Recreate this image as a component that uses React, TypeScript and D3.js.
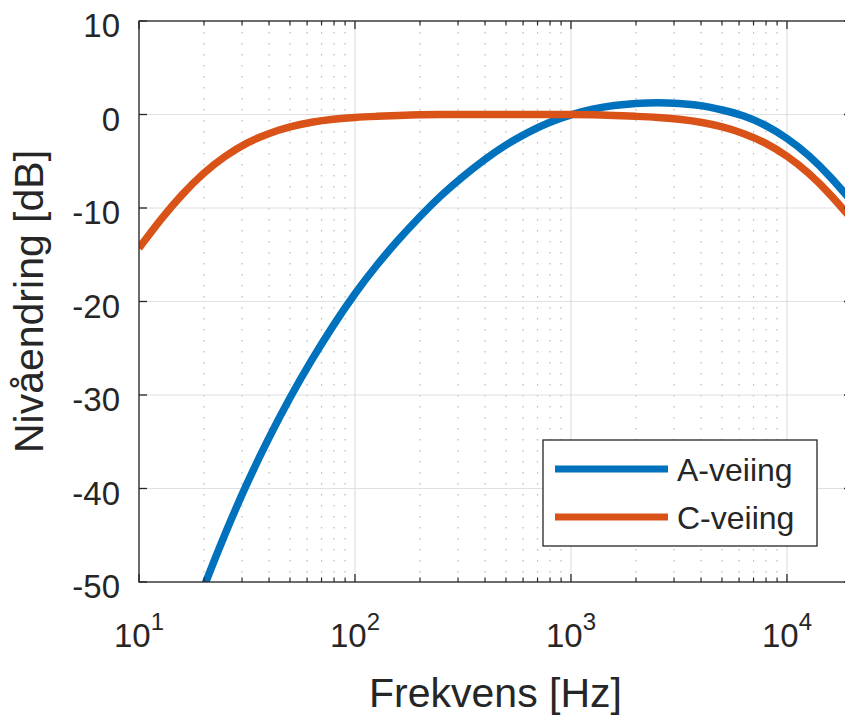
import React from 'react';
import * as d3 from 'd3';

// exact third-octave band centre frequencies [Hz]
const freqs = [10, 12.59, 15.85, 19.95, 25.12, 31.62, 39.81, 50.12, 63.1, 79.43, 100, 125.9, 158.5, 199.5, 251.2,
  316.2, 398.1, 501.2, 631, 794.3, 1000, 1259, 1585, 1995, 2512, 3162, 3981, 5012, 6310, 7943, 10000, 12589,
  15849, 19953];
const aWeight = [-70.4, -63.4, -56.7, -50.5, -44.7, -39.4, -34.6, -30.2, -26.2, -22.5, -19.1, -16.1, -13.4, -10.9,
  -8.6, -6.6, -4.8, -3.2, -1.9, -0.8, 0, 0.6, 1.0, 1.2, 1.3, 1.2, 1.0, 0.5, -0.1, -1.1, -2.5, -4.3, -6.6, -9.3];
const cWeight = [-14.3, -11.2, -8.5, -6.2, -4.4, -3.0, -2.0, -1.3, -0.8, -0.5, -0.3, -0.2, -0.1, 0, 0, 0, 0, 0, 0, 0,
  0, 0, -0.1, -0.2, -0.3, -0.5, -0.8, -1.3, -2.0, -3.0, -4.4, -6.2, -8.5, -11.2];
const seriesNames = ['A-veiing', 'C-veiing'];
const xDecades = [1, 2, 3, 4];
const yTicks = [10, 0, -10, -20, -30, -40, -50];

const W = 845, H = 715;
const left = 139, right = 852, top = 21, bottom = 582;
const axisColor = '#262626';
const colors = ['#0072BD', '#D95319'];
const font = '"Liberation Sans", Arial, Helvetica, sans-serif';

export default function App() {
  const x = d3.scaleLog().domain([10, 20000]).range([left, right]);
  const y = d3.scaleLinear().domain([-50, 10]).range([bottom, top]);

  const minor: number[] = [];
  [10, 100, 1000, 10000].forEach(d => {
    for (let k = 2; k <= 9; k++) if (d * k <= 20000) minor.push(d * k);
  });

  // basis spline smooths out the 0.1 dB rounding of the table values
  const line = d3.line<number>()
    .x((_, i) => x(freqs[i]))
    .y(v => y(v))
    .curve(d3.curveBasis);

  const series = [aWeight, cWeight];

  return (
    <svg width={W} height={H} style={{ position: 'absolute', left: 0, top: 0, background: '#fff' }}
      fontFamily={font}>
      <defs>
        <clipPath id="plot">
          <rect x={left} y={top} width={right - left} height={bottom - top} />
        </clipPath>
      </defs>

      {/* minor grid */}
      {minor.map(f => (
        <line key={'mg' + f} x1={x(f)} x2={x(f)} y1={top} y2={bottom}
          stroke="#b8b8b8" strokeWidth={1.2} strokeDasharray="1.5 9.5" />
      ))}
      {/* major grid */}
      {xDecades.map(p => (
        <line key={'gx' + p} x1={x(10 ** p)} x2={x(10 ** p)} y1={top} y2={bottom} stroke="#e0e0e0" strokeWidth={1.2} />
      ))}
      {yTicks.map(t => (
        <line key={'gy' + t} x1={left} x2={right} y1={y(t)} y2={y(t)} stroke="#e0e0e0" strokeWidth={1.2} />
      ))}

      {/* curves */}
      <g clipPath="url(#plot)">
        {series.map((s, i) => (
          <path key={i} d={line(s) || ''} fill="none" stroke={colors[i]} strokeWidth={7.5} />
        ))}
      </g>

      {/* axes box */}
      <rect x={left} y={top} width={right - left} height={bottom - top} fill="none" stroke={axisColor} strokeWidth={1.3} />

      {/* x ticks */}
      {xDecades.map(p => (
        <g key={'tx' + p}>
          <line x1={x(10 ** p)} x2={x(10 ** p)} y1={bottom} y2={bottom - 8} stroke={axisColor} strokeWidth={1.3} />
          <line x1={x(10 ** p)} x2={x(10 ** p)} y1={top} y2={top + 8} stroke={axisColor} strokeWidth={1.3} />
          <text x={x(10 ** p)} y={647} textAnchor="middle" fontSize={33} fill={axisColor}>
            10<tspan fontSize={24} dy={-17}>{p}</tspan>
          </text>
        </g>
      ))}
      {minor.map(f => (
        <g key={'mt' + f}>
          <line x1={x(f)} x2={x(f)} y1={bottom} y2={bottom - 4.5} stroke={axisColor} strokeWidth={1.2} />
          <line x1={x(f)} x2={x(f)} y1={top} y2={top + 4.5} stroke={axisColor} strokeWidth={1.2} />
        </g>
      ))}

      {/* y ticks */}
      {yTicks.map(t => (
        <g key={'ty' + t}>
          <line x1={left} x2={left + 8} y1={y(t)} y2={y(t)} stroke={axisColor} strokeWidth={1.3} />
          <line x1={right} x2={right - 8} y1={y(t)} y2={y(t)} stroke={axisColor} strokeWidth={1.3} />
          <text x={120} y={y(t) + 16} textAnchor="end" fontSize={33} fill={axisColor}>{t}</text>
        </g>
      ))}

      {/* axis labels */}
      <text x={(left + right) / 2} y={707} textAnchor="middle" fontSize={41} fill={axisColor}>Frekvens [Hz]</text>
      <text transform={`translate(43,${(top + bottom) / 2}) rotate(-90)`} textAnchor="middle" fontSize={41}
        fill={axisColor}>Nivåendring [dB]</text>

      {/* legend */}
      <g>
        <rect x={543} y={440} width={274} height={106} fill="#fff" stroke={axisColor} strokeWidth={1.3} />
        {seriesNames.map((n, i) => (
          <g key={n}>
            <line x1={555} x2={668} y1={469 + i * 48} y2={469 + i * 48} stroke={colors[i]} strokeWidth={7} />
            <text x={677} y={469 + i * 48 + 11.5} fontSize={32} fill={axisColor}>{n}</text>
          </g>
        ))}
      </g>
    </svg>
  );
}
